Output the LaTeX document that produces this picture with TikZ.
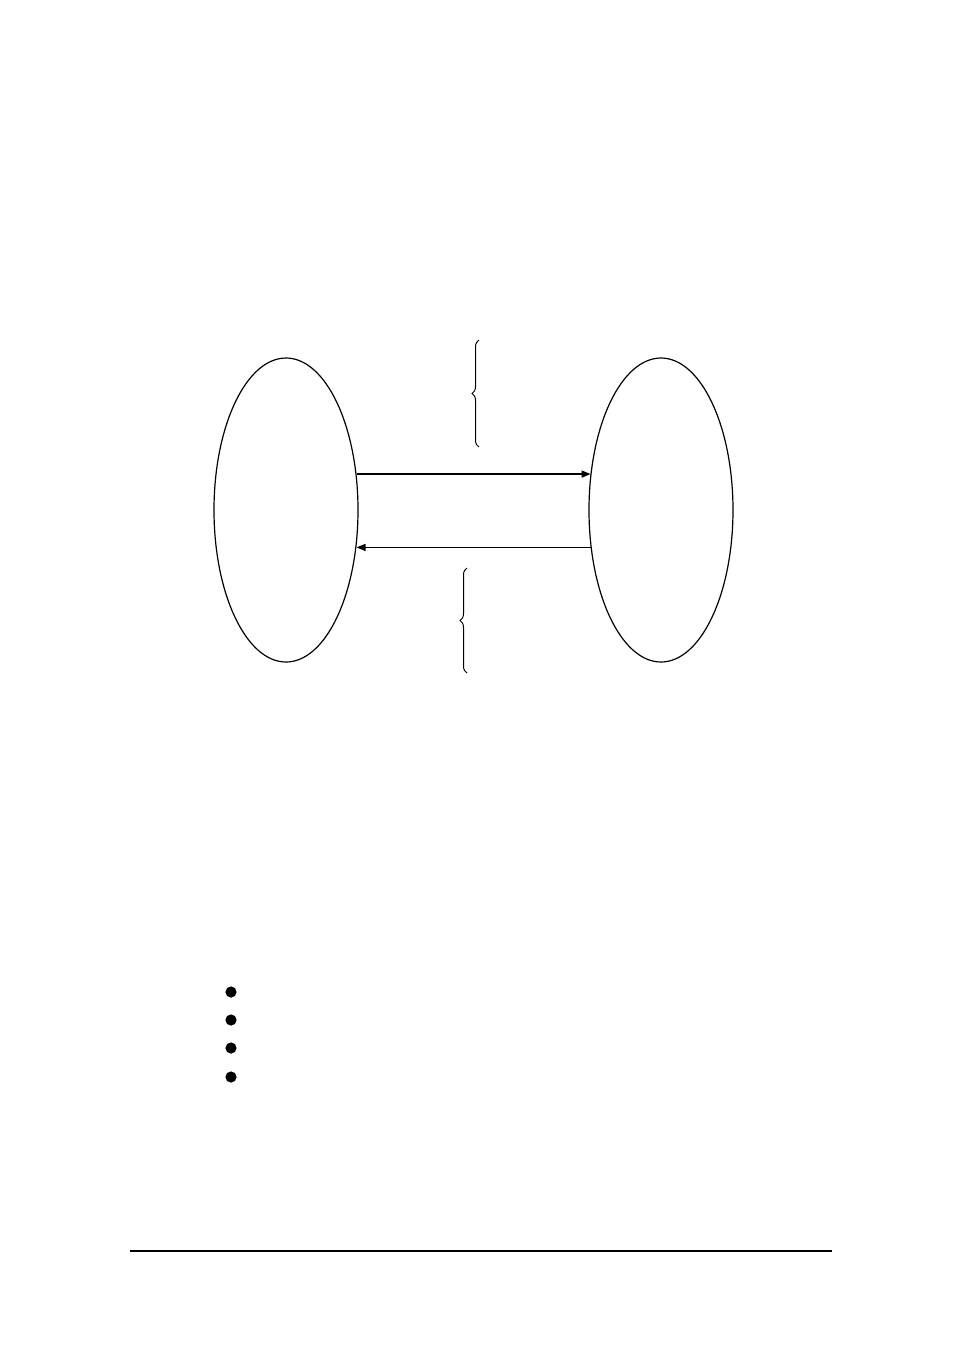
\documentclass[tikz,border=0pt]{standalone}
\usetikzlibrary{shapes.geometric,arrows.meta,decorations.pathreplacing}
\tikzset{
  blob/.style={draw, ellipse, line width=0.6pt, minimum width=72pt, minimum height=152pt, inner sep=0pt},
  flow/.style={line width=0.6pt, -{Triangle[length=4.5pt,width=3.5pt]}},
  curly/.style={line width=0.5pt, decorate, decoration={brace, amplitude=3.5pt}},
  dot/.style={circle, fill=black, minimum size=5.6pt, inner sep=0pt},
}
\begin{document}
\begin{tikzpicture}[x=0.5pt,y=-0.5pt]
\useasboundingbox (0,0) rectangle (954,1351);
\node[blob] (L) at (286,510) {};
\node[blob] (R) at (661,510) {};
\draw[flow] (L.27.5) -- (R.152.5 |- L.27.5);
\draw[flow] (R.-152.5) -- (L.-27.5 |- R.-152.5);
\coordinate (b1s) at (479,447);
\coordinate (b1e) at (479,340);
\draw[curly] (b1s) -- (b1e);
\coordinate (b2s) at (467,673);
\coordinate (b2e) at (467,568);
\draw[curly] (b2s) -- (b2e);
\node[dot] (d1) at (231,992) {};
\node[dot] (d2) at (231,1020) {};
\node[dot] (d3) at (231,1048) {};
\node[dot] (d4) at (231,1077) {};
\coordinate (r1) at (130,1251);
\coordinate (r2) at (832,1251);
\draw[line width=1.1pt] (r1) -- (r2);
\end{tikzpicture}
\end{document}
